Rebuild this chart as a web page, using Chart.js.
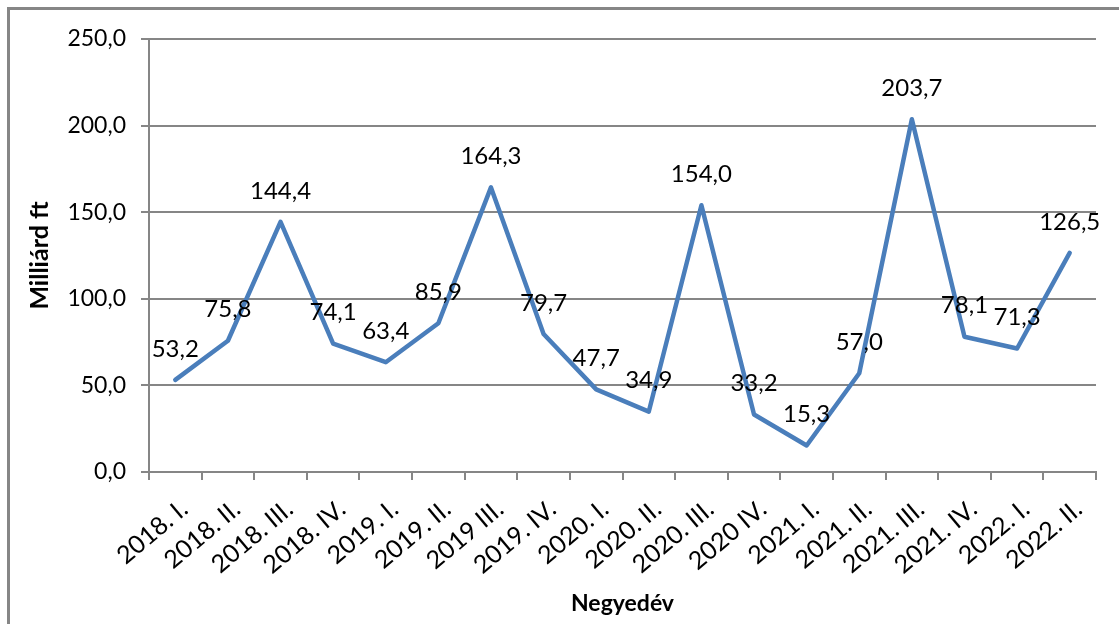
<!DOCTYPE html>
<html>
<head>
<meta charset="utf-8">
<script src="https://cdn.jsdelivr.net/npm/chart.js@4"></script>
<style>
  html, body { margin: 0; padding: 0; background: #fff; }
  #wrap { width: 1119px; height: 624px; position: relative; }
</style>
</head>
<body>
<div id="wrap"><canvas id="chart" width="1119" height="624"></canvas></div>
<script>
// --- DATA ---
const quarters = ['2018. I.', '2018. II.', '2018. III.', '2018. IV.', '2019. I.', '2019. II.',
    '2019 III.', '2019. IV.', '2020. I.', '2020. II.', '2020. III.', '2020 IV.',
    '2021. I.', '2021. II.', '2021. III.', '2021. IV.', '2022. I.', '2022. II.'];
const values = [53.2, 75.8, 144.4, 74.1, 63.4, 85.9, 164.3, 79.7, 47.7, 34.9, 154.0, 33.2,
    15.3, 57.0, 203.7, 78.1, 71.3, 126.5];
const yMin = 0, yMax = 250, yStep = 50;

const fmt = (v) => v.toFixed(1).replace('.', ',');
const FONT = 'Lato, "Open Sans", sans-serif';
const GRAY = '#868686';

// outer frame + value labels
const frame = {
    id: 'frame',
    beforeDraw(chart) {
        const c = chart.ctx;
        c.save();
        c.fillStyle = '#fff';
        c.fillRect(0, 0, chart.width, chart.height);
        c.strokeStyle = GRAY;
        c.lineWidth = 3;
        c.strokeRect(8.5, 8.5, chart.width + 20, chart.height + 20);
        c.restore();
    }
};

const valueLabels = {
    id: 'valueLabels',
    afterDatasetsDraw(chart) {
        const c = chart.ctx;
        const meta = chart.getDatasetMeta(0);
        c.save();
        c.font = '24px ' + FONT;
        c.fillStyle = '#000';
        c.textAlign = 'center';
        c.textBaseline = 'middle';
        meta.data.forEach((pt, i) => {
            c.fillText(fmt(values[i]), pt.x, pt.y - 31);
        });
        c.restore();
    }
};

new Chart(document.getElementById('chart'), {
    type: 'line',
    data: {
        labels: quarters,
        datasets: [{
            data: values,
            borderColor: '#4a7ebb',
            borderWidth: 4.5,
            pointRadius: 0,
            tension: 0,
            fill: false,
            borderJoinStyle: 'round',
            borderCapStyle: 'round'
        }]
    },
    options: {
        responsive: false,
        animation: false,
        layout: { padding: { top: 39, right: 23, left: 0, bottom: 0 } },
        plugins: { legend: { display: false }, tooltip: { enabled: false } },
        scales: {
            x: {
                offset: true,
                afterFit: (s) => { s.height = 152; },
                grid: { display: true, drawOnChartArea: false, drawTicks: true, tickLength: 8, offset: true, color: GRAY, lineWidth: 2 },
                border: { color: GRAY, width: 2 },
                ticks: { minRotation: 40, maxRotation: 40, autoSkip: false, color: '#000', padding: 14,
                    labelOffset: 9, font: { family: FONT, size: 25 } },
                title: { display: true, text: 'Negyedév', color: '#000',
                    font: { family: FONT, size: 23, weight: 'bold' }, padding: { top: 0, bottom: 7 } }
            },
            y: {
                min: yMin, max: yMax,
                afterFit: (s) => { s.width = 149; },
                grid: { color: GRAY, lineWidth: 2, tickLength: 8 },
                border: { color: GRAY, width: 2 },
                ticks: { stepSize: yStep, color: '#000', padding: 15, callback: (v) => fmt(v),
                    font: { family: FONT, size: 23 } },
                title: { display: true, text: 'Milliárd ft', color: '#000',
                    font: { family: FONT, size: 25, weight: 'bold' }, padding: { top: 25, bottom: 0 } }
            }
        }
    },
    plugins: [frame, valueLabels]
});
</script>
</body>
</html>
